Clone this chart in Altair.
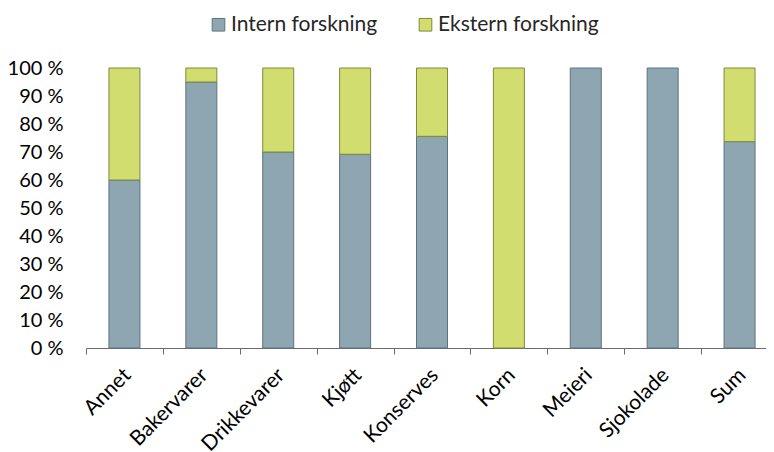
import altair as alt
import pandas as pd

categories = ["Annet", "Bakervarer", "Drikkevarer", "Kjøtt", "Konserves",
              "Korn", "Meieri", "Sjokolade", "Sum"]
intern = [60.0, 95.0, 70.0, 69.2, 75.6, 0.0, 100.0, 100.0, 73.7]
ekstern = [40.0, 5.0, 30.0, 30.8, 24.4, 100.0, 0.0, 0.0, 26.3]
series = ["Intern forskning", "Ekstern forskning"]
fill_colors = ["#8EA6B2", "#D2DD70"]
stroke_colors = ["#5E727C", "#7E8A3C"]
y_ticks = [0, 10, 20, 30, 40, 50, 60, 70, 80, 90, 100]

rows = []
for i, cat in enumerate(categories):
    for j, vals in enumerate([intern, ekstern]):
        if vals[i] > 0:
            rows.append({"kategori": cat, "serie": series[j],
                         "verdi": vals[i], "rekkefolge": j})
df = pd.DataFrame(rows)

FONT = "Lato"

legend_cfg = dict(title=None, orient="none", direction="horizontal",
                  legendX=122, legendY=-54,
                  symbolType="square", symbolSize=160,
                  symbolStrokeWidth=1,
                  labelFontSize=21, labelFont=FONT,
                  labelColor="#262626", labelLimit=0,
                  columnPadding=37, labelOffset=2)

chart = alt.Chart(df).mark_bar(width=31, strokeWidth=1).encode(
    x=alt.X("kategori:N", sort=categories,
            scale=alt.Scale(domain=categories, range=[0, 692],
                            paddingInner=0, paddingOuter=0),
            axis=alt.Axis(title=None, labelAngle=-45, labelAlign="right",
                          labelBaseline="top", labelFontSize=21,
                          labelFont=FONT, labelColor="#000000",
                          labelPadding=10, tickBand="extent", tickSize=6,
                          domainColor="#6b6b6b", tickColor="#6b6b6b",
                          labelOffset=-5, labelLimit=0)),
    y=alt.Y("verdi:Q", stack="zero",
            scale=alt.Scale(domain=[0, 100], nice=False),
            axis=alt.Axis(title=None, values=y_ticks,
                          labelExpr="datum.value + ' %'",
                          domain=False, ticks=False, grid=False,
                          labelFontSize=20, labelFont=FONT,
                          labelColor="#000000", labelPadding=23)),
    color=alt.Color("serie:N",
                    scale=alt.Scale(domain=series, range=fill_colors),
                    legend=alt.Legend(**legend_cfg)),
    stroke=alt.Stroke("serie:N",
                      scale=alt.Scale(domain=series, range=stroke_colors),
                      legend=alt.Legend(**legend_cfg)),
    order=alt.Order("rekkefolge:Q"),
).properties(
    width=680, height=280,
    autosize=alt.AutoSizeParams(type="none"),
    padding={"left": 78, "top": 60, "right": 0, "bottom": 104},
).configure_view(stroke=None)

chart.save("out.html", embed_options={"renderer": "svg", "actions": False})
